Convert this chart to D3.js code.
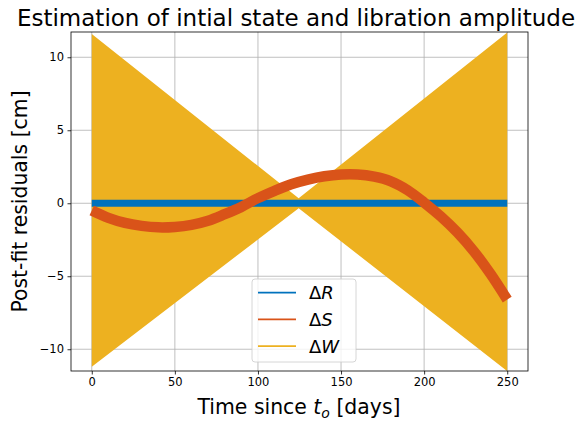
<!DOCTYPE html>
<html>
<head>
<meta charset="utf-8">
<script src="https://cdn.jsdelivr.net/npm/d3@7"></script>
<style>
  body { margin: 0; background: #fff; }
  text { font-family: "DejaVu Sans", sans-serif; fill: #000; }
</style>
</head>
<body>
<div id="vis"></div>
<script>
// residual series (cm)
const sTime = [0, 10, 20, 30, 40, 50, 60, 70, 80, 90, 100, 110, 120, 130, 140, 150, 160, 170, 180, 190, 200, 210, 220, 230, 240, 250];
const sValues = [-0.5, -1.0, -1.35, -1.55, -1.65, -1.62, -1.48, -1.2, -0.75, -0.25, 0.35, 0.85, 1.3, 1.62, 1.85, 1.97, 1.97, 1.82, 1.5, 0.9, 0.05, -0.9, -2.0, -3.3, -4.85, -6.6];
const rTime = [0, 250];
const rValues = [0, 0];
// W oscillates too fast to resolve: keep its envelope
const wTime = [0, 124.5, 250];
const wUpper = [11.6, 0.34, 11.7];
const wLower = [-11.2, -0.34, -11.5];

const xTicks = [0, 50, 100, 150, 200, 250];
const yTicks = [-10, -5, 0, 5, 10];
const legendNames = ['R', 'S', 'W'];
const colors = ['#0072BD', '#D95319', '#EDB120'];

const width = 580, height = 425;
const plot = {left: 71, right: 528, top: 32, bottom: 371};

const svg = d3.select('#vis').append('svg')
  .attr('width', width)
  .attr('height', height);

const x = d3.scaleLinear().domain([-12.5, 262.5]).range([plot.left, plot.right]);
const y = d3.scaleLinear().domain([-11.49, 11.73]).range([plot.bottom, plot.top]);

// grid
svg.append('g').selectAll('line').data(xTicks).join('line')
  .attr('x1', d => x(d)).attr('x2', d => x(d))
  .attr('y1', plot.top).attr('y2', plot.bottom)
  .style('stroke', '#b0b0b0').style('stroke-width', 0.8);
svg.append('g').selectAll('line').data(yTicks).join('line')
  .attr('y1', d => y(d)).attr('y2', d => y(d))
  .attr('x1', plot.left).attr('x2', plot.right)
  .style('stroke', '#b0b0b0').style('stroke-width', 0.8);

svg.append('clipPath').attr('id', 'clip')
  .append('rect')
  .attr('x', plot.left).attr('y', plot.top)
  .attr('width', plot.right - plot.left).attr('height', plot.bottom - plot.top);

const layer = svg.append('g').attr('clip-path', 'url(#clip)');

// delta W envelope
const wData = wTime.map((t, i) => ({t: t, lo: wLower[i], hi: wUpper[i]}));
layer.append('path')
  .datum(wData)
  .attr('d', d3.area().x(d => x(d.t)).y0(d => y(d.lo)).y1(d => y(d.hi)))
  .style('fill', colors[2]);

// delta R
layer.append('path')
  .datum(rTime.map((t, i) => [t, rValues[i]]))
  .attr('d', d3.line().x(d => x(d[0])).y(d => y(d[1])))
  .style('fill', 'none').style('stroke', colors[0]).style('stroke-width', 7);

// delta S
layer.append('path')
  .datum(sTime.map((t, i) => [t, sValues[i]]))
  .attr('d', d3.line().curve(d3.curveCatmullRom).x(d => x(d[0])).y(d => y(d[1])))
  .style('fill', 'none').style('stroke', colors[1]).style('stroke-width', 10.5)
  .style('stroke-linejoin', 'round');

// axes
const xAxis = svg.append('g')
  .attr('transform', `translate(0,${plot.bottom})`)
  .call(d3.axisBottom(x).tickValues(xTicks).tickSize(3.5).tickPadding(3.5));
const yAxis = svg.append('g')
  .attr('transform', `translate(${plot.left},0)`)
  .call(d3.axisLeft(y).tickValues(yTicks).tickSize(3.5).tickPadding(3.5)
    .tickFormat(d => d < 0 ? '\u2212' + Math.abs(d) : d));
[xAxis, yAxis].forEach(a => {
  a.select('.domain').remove();
  a.selectAll('line').style('stroke', '#000').style('stroke-width', 0.8);
  a.selectAll('text').style('font-size', '11.5px').style('font-family', '"DejaVu Sans", sans-serif').style('fill', '#000');
});

// frame
svg.append('rect')
  .attr('x', plot.left).attr('y', plot.top)
  .attr('width', plot.right - plot.left).attr('height', plot.bottom - plot.top)
  .style('fill', 'none').style('stroke', '#000').style('stroke-width', 0.8);

// title and labels
svg.append('text')
  .attr('x', 296).attr('y', 26)
  .attr('text-anchor', 'middle')
  .style('font-size', '23px')
  .text('Estimation of intial state and libration amplitude');

const xl = svg.append('text')
  .attr('x', 299).attr('y', 414)
  .attr('text-anchor', 'middle')
  .style('font-size', '20.4px');
xl.append('tspan').text('Time since ');
xl.append('tspan').style('font-style', 'italic').text('t');
xl.append('tspan').style('font-style', 'italic').style('font-size', '14px').attr('dy', 3.5).text('o');
xl.append('tspan').attr('dy', -3.5).text(' [days]');

svg.append('text')
  .attr('transform', `translate(27,${(plot.top + plot.bottom) / 2}) rotate(-90)`)
  .attr('text-anchor', 'middle')
  .style('font-size', '20.4px')
  .text('Post-fit residuals [cm]');

// legend
const legend = svg.append('g').attr('transform', 'translate(252,279)');
legend.append('rect')
  .attr('width', 104).attr('height', 83).attr('rx', 3)
  .style('fill', '#fff').style('fill-opacity', 0.8)
  .style('stroke', '#cccccc').style('stroke-width', 0.8);
const items = legend.selectAll('g.item').data(legendNames).join('g')
  .attr('class', 'item')
  .attr('transform', (d, i) => `translate(0,${13.7 + i * 26.7})`);
items.append('line')
  .attr('x1', 6).attr('x2', 44)
  .style('stroke', (d, i) => colors[i]).style('stroke-width', 1.8);
const lab = items.append('text')
  .attr('x', 57).attr('y', 6.5)
  .style('font-size', '18px');
lab.append('tspan').text('\u0394');
lab.append('tspan').style('font-style', 'italic').text(d => d);
</script>
</body>
</html>
